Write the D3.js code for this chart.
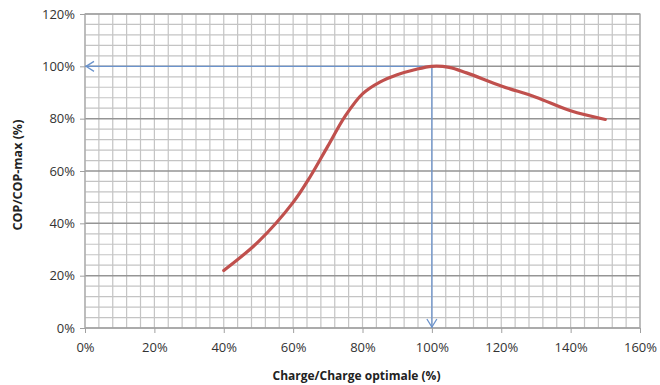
<!DOCTYPE html>
<html>
<head>
<meta charset="utf-8">
<script src="https://cdn.jsdelivr.net/npm/d3@7"></script>
<style>
  body { margin: 0; background: #fff; }
  text { font-family: "Open Sans", "Liberation Sans", sans-serif; }
</style>
</head>
<body>
<div id="chart"></div>
<script>
(function(){

  // Data
  let charge = [40, 50, 60, 65, 70, 75, 80, 85, 90, 95, 100, 105, 110, 120, 130, 140, 150]
  let cop = [22, 33, 48, 58, 69.5, 81, 89.5, 94, 96.8, 98.7, 100, 99.6, 97.5, 92.5, 88.2, 83, 79.7]
  let xTicks = [0, 20, 40, 60, 80, 100, 120, 140, 160]
  let yTicks = [0, 20, 40, 60, 80, 100, 120]
  let optimum = { x: 100, y: 100 }

  let margin = { top: 14, left: 85, right: 20, bottom: 57 }
  let width = 660 - margin.left - margin.right
  let height = 385 - margin.top - margin.bottom

  let svg = d3.select('#chart')
    .append('svg')
    .attr('width', 660)
    .attr('height', 385)
  let g = svg.append('g')
    .attr('transform', 'translate(' + margin.left + ',' + margin.top + ')')

  // Scales
  let xScale = d3.scaleLinear().domain([0, 160]).range([0, width])
  let yScale = d3.scaleLinear().domain([0, 120]).range([height, 0])

  // Grid: minor every 4%, major every 20%
  let minor = d3.range(0, 161, 4)
  let minorY = d3.range(0, 121, 4)

  g.selectAll('.vgrid')
    .data(minor)
    .enter().append('line')
    .attr('x1', d => xScale(d)).attr('x2', d => xScale(d))
    .attr('y1', 0).attr('y2', height)
    .attr('stroke', '#c4c4c4')
    .attr('stroke-width', 1.2)

  g.selectAll('.hgrid')
    .data(minorY)
    .enter().append('line')
    .attr('x1', 0).attr('x2', width)
    .attr('y1', d => yScale(d)).attr('y2', d => yScale(d))
    .attr('stroke', d => d % 20 === 0 ? '#959595' : '#c4c4c4')
    .attr('stroke-width', d => d % 20 === 0 ? 1.5 : 1.2)

  g.append('rect')
    .attr('width', width).attr('height', height)
    .attr('fill', 'none')
    .attr('stroke', '#a8a8a8')
    .attr('stroke-width', 1.2)

  // Axes
  let xAxis = d3.axisBottom(xScale).tickValues(xTicks).tickSize(5).tickPadding(10)
    .tickFormat(d => d + '%')
  let yAxis = d3.axisLeft(yScale).tickValues(yTicks).tickSize(5).tickPadding(5)
    .tickFormat(d => d + '%')

  let gx = g.append('g')
    .attr('transform', 'translate(0,' + height + ')')
    .call(xAxis)
  let gy = g.append('g').call(yAxis)

  ;[gx, gy].forEach(a => {
    a.select('.domain').remove()
    a.selectAll('line').attr('stroke', '#a0a0a0')
    a.selectAll('text').attr('fill', '#333').style('font-size', '13px')
  })

  // Reference arrows
  let arrowColor = '#6b93cc'
  g.append('line')
    .attr('x1', xScale(optimum.x)).attr('y1', yScale(optimum.y))
    .attr('x2', xScale(0)).attr('y2', yScale(optimum.y))
    .attr('stroke', arrowColor).attr('stroke-width', 1.3)
  g.append('line')
    .attr('x1', xScale(optimum.x)).attr('y1', yScale(optimum.y))
    .attr('x2', xScale(optimum.x)).attr('y2', yScale(0))
    .attr('stroke', arrowColor).attr('stroke-width', 1.3)

  let ax = xScale(0), ay = yScale(optimum.y)
  g.append('path')
    .attr('d', `M${ax + 9},${ay - 5} L${ax + 1},${ay} L${ax + 9},${ay + 5}`)
    .attr('fill', 'none').attr('stroke', arrowColor).attr('stroke-width', 1.3)
  let bx = xScale(optimum.x), by = yScale(0)
  g.append('path')
    .attr('d', `M${bx - 5},${by - 9} L${bx},${by - 1} L${bx + 5},${by - 9}`)
    .attr('fill', 'none').attr('stroke', arrowColor).attr('stroke-width', 1.3)

  // Curve
  let points = charge.map((c, i) => ({ x: c, y: cop[i] }))
  let line = d3.line()
    .x(d => xScale(d.x))
    .y(d => yScale(d.y))
    .curve(d3.curveCatmullRom.alpha(0.5))

  g.append('path')
    .datum(points)
    .attr('d', line)
    .attr('fill', 'none')
    .attr('stroke', '#c0504d')
    .attr('stroke-width', 3.2)
    .attr('stroke-linecap', 'round')

  // Axis titles
  svg.append('text')
    .attr('x', margin.left + width / 2 - 6)
    .attr('y', 380)
    .attr('text-anchor', 'middle')
    .style('font-size', '12px')
    .style('font-weight', 'bold')
    .attr('fill', '#222')
    .text('Charge/Charge optimale (%)')

  svg.append('text')
    .attr('transform', 'translate(22,' + (margin.top + height / 2 + 4) + ') rotate(-90)')
    .attr('text-anchor', 'middle')
    .style('font-size', '12.5px')
    .style('font-weight', 'bold')
    .attr('fill', '#222')
    .text('COP/COP-max (%)')

})()
</script>
</body>
</html>
